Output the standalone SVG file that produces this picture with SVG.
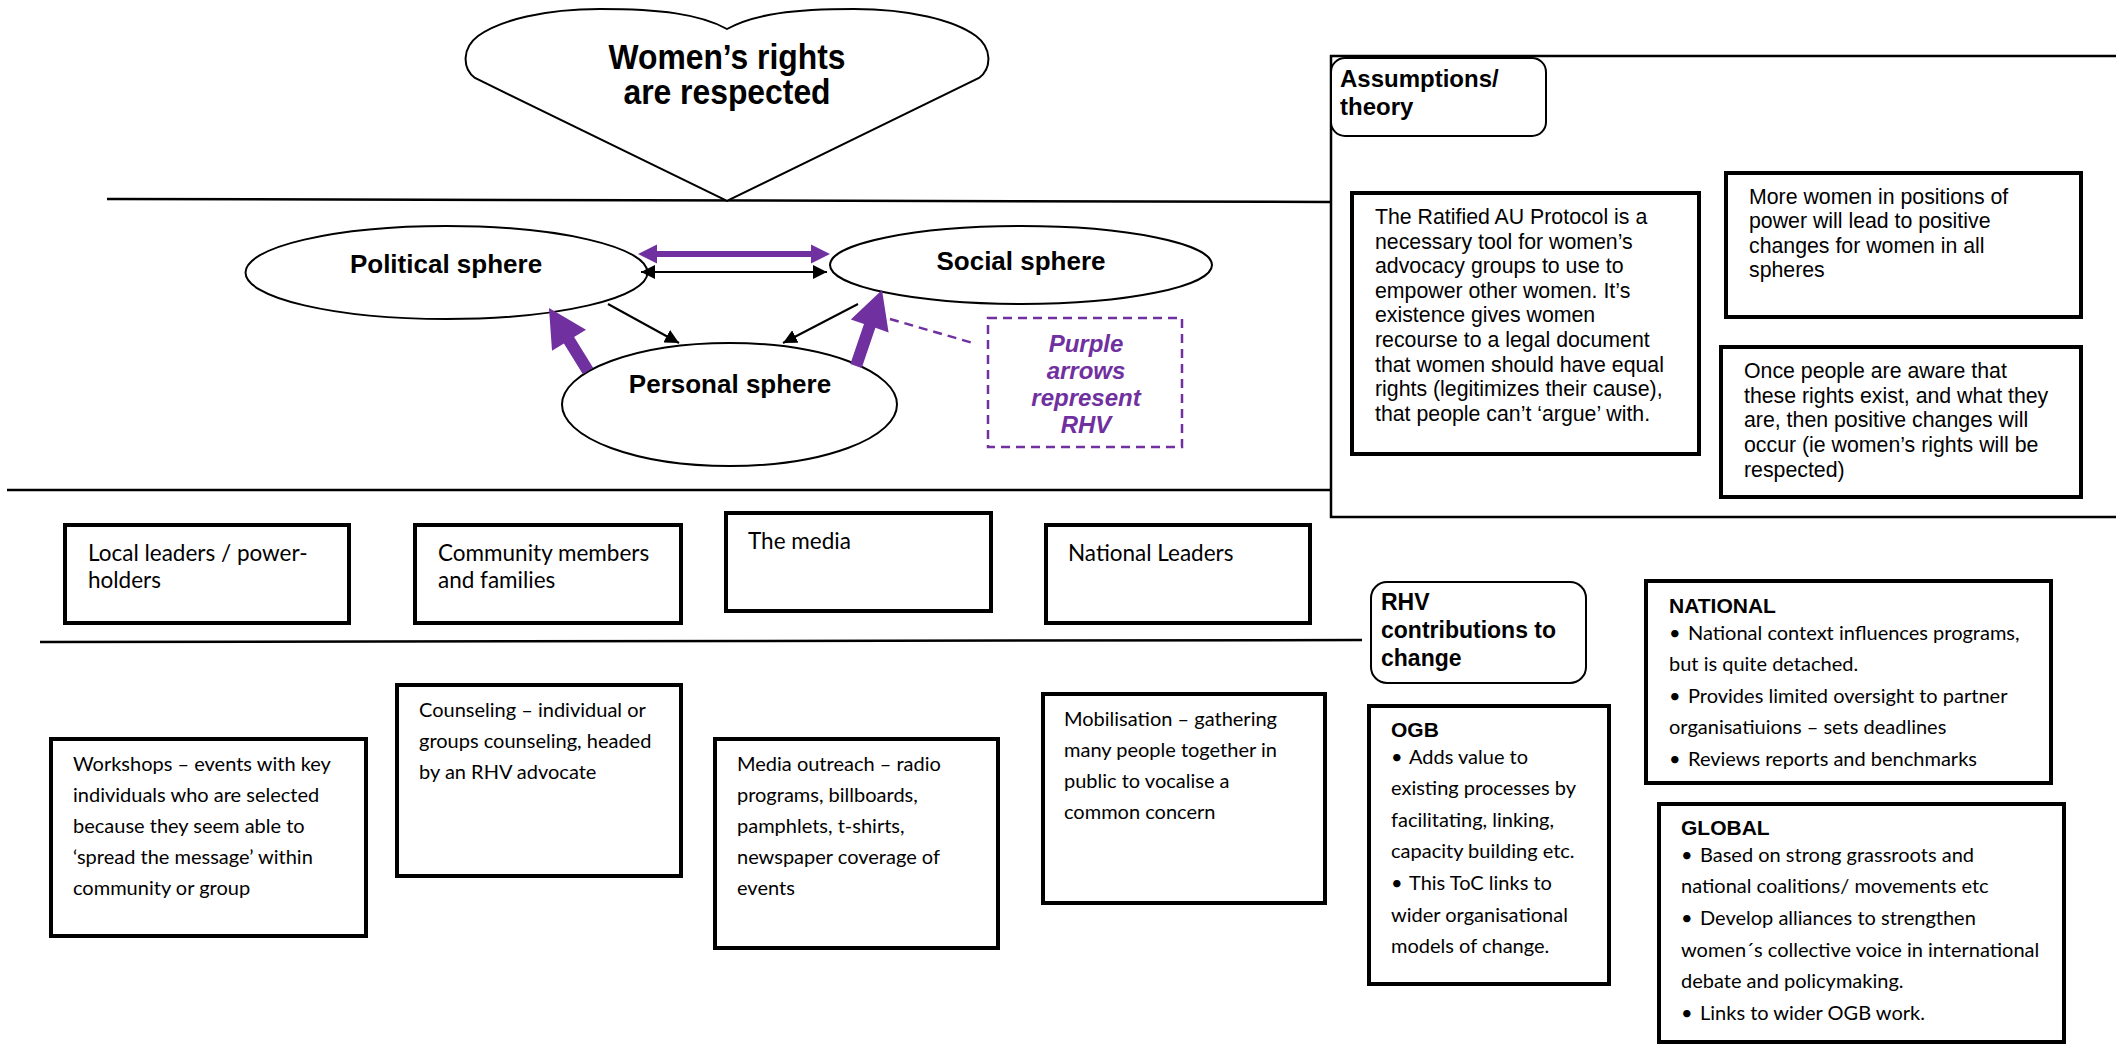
<svg xmlns="http://www.w3.org/2000/svg" width="2116" height="1044" viewBox="0 0 2116 1044">
<style>
text{font-family:"Liberation Sans",Arial,sans-serif;fill:#000}
.ttl{font-size:35px;font-weight:bold;text-anchor:middle}
.sp{font-size:26px;font-weight:bold;text-anchor:middle}
.lbl{font-size:24px;font-weight:bold;font-style:italic;text-anchor:middle;fill:#7030A0}
.hd{font-size:24px;font-weight:bold}
.rhv{font-size:23px;font-weight:bold}
.ar{font-size:21.3px}
.bh{font-size:21px;font-weight:bold}
.cb{font-family:Lato,"Liberation Sans",sans-serif;font-size:22.5px}
.cs{font-family:Lato,"Liberation Sans",sans-serif;font-size:20px}
.shape{fill:#fff;stroke:#000;stroke-width:2}
.box{fill:#fff;stroke:#000;stroke-width:4}
.rbox{fill:#fff;stroke:#000;stroke-width:2}
.rule{stroke:#000;stroke-width:2.5;fill:none}
.blk{stroke:#000;stroke-width:2;fill:none}
.pur{fill:#7030A0}
</style>
<defs>
<marker id="ah" viewBox="0 0 10 10" refX="10" refY="5" markerWidth="14" markerHeight="14" markerUnits="userSpaceOnUse" orient="auto-start-reverse">
<path d="M0,0 L10,5 L0,10 z" fill="#000"/>
</marker>
</defs>
<rect width="2116" height="1044" fill="#fff"/>

<g id="rules">
<path class="rule" d="M107,199 L1330,202"/>
<path class="rule" d="M7,490 L1331,490"/>
<path class="rule" d="M40,642 L1362,640"/>
</g>

<g id="assumptions-frame">
<path class="rule" d="M2120,56 H1331 V517 H2120" stroke-width="2"/>
</g>

<g id="goal">
<path class="shape" d="M727,29 C700,14 660,9 600,9 C545,9 500,20 478,36 C462,48 462,68 475,78 L727,201 L979,78 C992,68 992,48 976,36 C954,20 909,9 854,9 C794,9 754,14 727,29 Z"/>
<g transform="translate(727,0) scale(0.91,1)">
<text class="ttl" x="0" y="69">Women’s rights</text>
<text class="ttl" x="0" y="104">are respected</text>
</g>
</g>

<g id="political">
<ellipse class="shape" cx="446.5" cy="272.5" rx="201" ry="46.5"/>
<text class="sp" x="446" y="273">Political sphere</text>
</g>
<g id="social">
<ellipse class="shape" cx="1021" cy="265" rx="191" ry="39"/>
<text class="sp" x="1021" y="270">Social sphere</text>
</g>
<g id="personal">
<ellipse class="shape" cx="729.5" cy="404.5" rx="167.5" ry="61.5"/>
<text class="sp" x="730" y="393">Personal sphere</text>
</g>

<g id="connectors">
<polygon class="pur" points="638,254 657,244.5 657,251 811,251 811,244.5 830,254 811,263.5 811,257 657,257 657,263.5"/>
<line class="blk" x1="641" y1="272" x2="827" y2="272" marker-start="url(#ah)" marker-end="url(#ah)"/>
<line class="blk" x1="608" y1="304" x2="679" y2="343" marker-end="url(#ah)"/>
<line class="blk" x1="858" y1="304" x2="783" y2="343" marker-end="url(#ah)"/>
<polygon class="pur" points="582.9,374.2 563.9,343.5 552.0,350.8 549,308 586.0,329.8 574.1,337.1 593.1,367.8"/>
<polygon class="pur" points="850.3,364.1 864.0,324.0 850.8,319.4 882,290 888.6,332.4 875.4,327.8 861.7,367.9"/>
<line x1="890" y1="319" x2="973" y2="343" stroke="#7030A0" stroke-width="2.5" stroke-dasharray="9,6"/>
</g>

<g id="legend">
<rect x="988" y="318" width="194" height="129" fill="#fff" stroke="#7030A0" stroke-width="2.5" stroke-dasharray="9,6"/>
<text class="lbl" x="1086" y="352">Purple</text>
<text class="lbl" x="1086" y="379">arrows</text>
<text class="lbl" x="1086" y="406">represent</text>
<text class="lbl" x="1086" y="433">RHV</text>
</g>

<g id="assumptions-title">
<rect class="rbox" x="1331" y="58" width="215" height="78" rx="14"/>
<text class="hd" x="1340" y="87">Assumptions/</text>
<text class="hd" x="1340" y="115">theory</text>
</g>

<g id="au-protocol">
<rect class="box" x="1352" y="193" width="347" height="261"/>
<text class="ar" x="1375" y="224">The Ratified AU Protocol is a</text>
<text class="ar" x="1375" y="248.6">necessary tool for women’s</text>
<text class="ar" x="1375" y="273.2">advocacy groups to use to</text>
<text class="ar" x="1375" y="297.8">empower other women. It’s</text>
<text class="ar" x="1375" y="322.4">existence gives women</text>
<text class="ar" x="1375" y="347">recourse to a legal document</text>
<text class="ar" x="1375" y="371.6">that women should have equal</text>
<text class="ar" x="1375" y="396.2">rights (legitimizes their cause),</text>
<text class="ar" x="1375" y="420.8">that people can’t ‘argue’ with.</text>
</g>

<g id="more-women">
<rect class="box" x="1726" y="173" width="355" height="144"/>
<text class="ar" x="1749" y="204">More women in positions of</text>
<text class="ar" x="1749" y="228.4">power will lead to positive</text>
<text class="ar" x="1749" y="252.8">changes for women in all</text>
<text class="ar" x="1749" y="277.2">spheres</text>
</g>

<g id="awareness">
<rect class="box" x="1721" y="347" width="360" height="150"/>
<text class="ar" x="1744" y="378">Once people are aware that</text>
<text class="ar" x="1744" y="402.7">these rights exist, and what they</text>
<text class="ar" x="1744" y="427.4">are, then positive changes will</text>
<text class="ar" x="1744" y="452.1">occur (ie women’s rights will be</text>
<text class="ar" x="1744" y="476.8">respected)</text>
</g>

<g id="local-leaders">
<rect class="box" x="65" y="525" width="284" height="98"/>
<text class="cb" x="88" y="561">Local leaders / power-</text>
<text class="cb" x="88" y="588">holders</text>
</g>
<g id="community">
<rect class="box" x="415" y="525" width="266" height="98"/>
<text class="cb" x="438" y="561">Community members</text>
<text class="cb" x="438" y="588">and families</text>
</g>
<g id="media">
<rect class="box" x="726" y="513" width="265" height="98"/>
<text class="cb" x="748" y="549">The media</text>
</g>
<g id="national-leaders">
<rect class="box" x="1046" y="525" width="264" height="98"/>
<text class="cb" x="1068" y="561">National Leaders</text>
</g>

<g id="workshops">
<rect class="box" x="51" y="739" width="315" height="197"/>
<text class="cs" x="73" y="771">Workshops – events with key</text>
<text class="cs" x="73" y="802">individuals who are selected</text>
<text class="cs" x="73" y="833">because they seem able to</text>
<text class="cs" x="73" y="864">‘spread the message’ within</text>
<text class="cs" x="73" y="895">community or group</text>
</g>
<g id="counseling">
<rect class="box" x="397" y="685" width="284" height="191"/>
<text class="cs" x="419" y="717">Counseling – individual or</text>
<text class="cs" x="419" y="748">groups counseling, headed</text>
<text class="cs" x="419" y="779">by an RHV advocate</text>
</g>
<g id="media-outreach">
<rect class="box" x="715" y="739" width="283" height="209"/>
<text class="cs" x="737" y="771">Media outreach – radio</text>
<text class="cs" x="737" y="802">programs, billboards,</text>
<text class="cs" x="737" y="833">pamphlets, t-shirts,</text>
<text class="cs" x="737" y="864">newspaper coverage of</text>
<text class="cs" x="737" y="895">events</text>
</g>
<g id="mobilisation">
<rect class="box" x="1043" y="694" width="282" height="209"/>
<text class="cs" x="1064" y="726">Mobilisation – gathering</text>
<text class="cs" x="1064" y="757">many people together in</text>
<text class="cs" x="1064" y="788">public to vocalise a</text>
<text class="cs" x="1064" y="819">common concern</text>
</g>

<g id="rhv-title">
<rect class="rbox" x="1371" y="582" width="215" height="101" rx="16"/>
<text class="rhv" x="1381" y="610">RHV</text>
<text class="rhv" x="1381" y="638">contributions to</text>
<text class="rhv" x="1381" y="666">change</text>
</g>

<g id="ogb">
<rect class="box" x="1369" y="706" width="240" height="278"/>
<text class="bh" x="1391" y="737">OGB</text>
<text class="cs" x="1391" y="764">•<tspan x="1409">Adds value to</tspan></text>
<text class="cs" x="1391" y="795">existing processes by</text>
<text class="cs" x="1391" y="827">facilitating, linking,</text>
<text class="cs" x="1391" y="858">capacity building etc.</text>
<text class="cs" x="1391" y="890">•<tspan x="1409">This ToC links to</tspan></text>
<text class="cs" x="1391" y="922">wider organisational</text>
<text class="cs" x="1391" y="953">models of change.</text>
</g>

<g id="national">
<rect class="box" x="1646" y="581" width="405" height="202"/>
<text class="bh" x="1669" y="613">NATIONAL</text>
<text class="cs" x="1669" y="640">•<tspan x="1688">National context influences programs,</tspan></text>
<text class="cs" x="1669" y="671">but is quite detached.</text>
<text class="cs" x="1669" y="703">•<tspan x="1688">Provides limited oversight to partner</tspan></text>
<text class="cs" x="1669" y="734">organisatiuions – sets deadlines</text>
<text class="cs" x="1669" y="766">•<tspan x="1688">Reviews reports and benchmarks</tspan></text>
</g>

<g id="global">
<rect class="box" x="1659" y="804" width="405" height="238"/>
<text class="bh" x="1681" y="835">GLOBAL</text>
<text class="cs" x="1681" y="862">•<tspan x="1700">Based on strong grassroots and</tspan></text>
<text class="cs" x="1681" y="893">national coalitions/ movements etc</text>
<text class="cs" x="1681" y="925">•<tspan x="1700">Develop alliances to strengthen</tspan></text>
<text class="cs" x="1681" y="957">women´s collective voice in international</text>
<text class="cs" x="1681" y="988">debate and policymaking.</text>
<text class="cs" x="1681" y="1020">•<tspan x="1700">Links to wider OGB work.</tspan></text>
</g>
</svg>
